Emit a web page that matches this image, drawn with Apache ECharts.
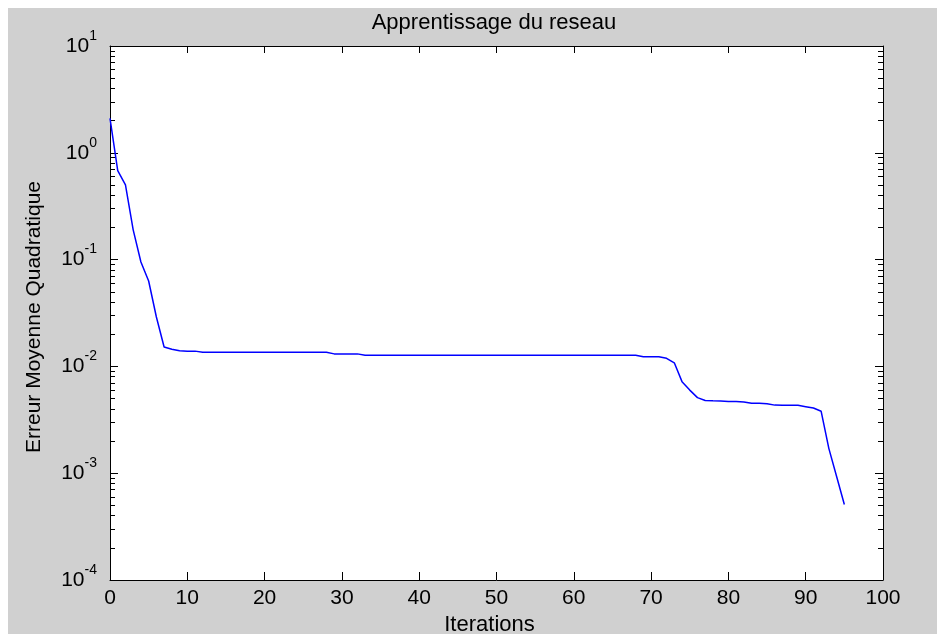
<!DOCTYPE html>
<html>
<head>
<meta charset="utf-8">
<script src="https://cdn.jsdelivr.net/npm/echarts@6/dist/echarts.min.js"></script>
<style>
html,body{margin:0;padding:0;background:#fff;}
#bg{position:absolute;left:8px;top:8px;width:929px;height:626px;background:#d0d0d0;}
#main{position:absolute;left:0;top:0;width:937px;height:634px;}
</style>
</head>
<body>
<div id="bg"></div>
<div id="main"></div>
<script>
// Data
const iterations = [
  0,1,2,3,4,5,6,7,8,9,
  10,11,12,13,14,15,16,17,18,19,
  20,21,22,23,24,25,26,27,28,29,
  30,31,32,33,34,35,36,37,38,39,
  40,41,42,43,44,45,46,47,48,49,
  50,51,52,53,54,55,56,57,58,59,
  60,61,62,63,64,65,66,67,68,69,
  70,71,72,73,74,75,76,77,78,79,
  80,81,82,83,84,85,86,87,88,89,
  90,91,92,93,94,95
];
const mse = [
  2.1,0.68,0.5,0.19,0.095,0.063,0.029,0.0152,0.0145,0.0140,
  0.0139,0.0139,0.01355,0.01355,0.01355,0.01355,0.01355,0.01355,0.01355,0.01355,
  0.01355,0.01355,0.01355,0.01355,0.01355,0.01355,0.01355,0.01355,0.01355,0.0131,
  0.0131,0.0131,0.0131,0.0127,0.0127,0.0127,0.0127,0.0127,0.0127,0.0127,
  0.0127,0.0127,0.0127,0.0127,0.0127,0.0127,0.0127,0.0127,0.0127,0.0127,
  0.0127,0.0127,0.0127,0.0127,0.0127,0.0127,0.0127,0.0127,0.0127,0.0127,
  0.0127,0.0127,0.0127,0.0127,0.0127,0.0127,0.0127,0.0127,0.0127,0.0123,
  0.0123,0.0123,0.0119,0.0108,0.0072,0.0060,0.0051,0.0048,0.00477,0.00475,
  0.0047,0.0047,0.00465,0.00452,0.00452,0.00448,0.00434,0.00433,0.00433,0.00432,
  0.0042,0.00408,0.0038,0.0017,0.00093,0.00051
];
const xTicks = [0,10,20,30,40,50,60,70,80,90,100];
const yMajor = [0.0001,0.001,0.01,0.1,1,10];
const yMinorMultipliers = [2,3,4,5,6,7,8,9];

const yMinor = [];
yMajor.slice(0,-1).forEach(d => yMinorMultipliers.forEach(m => yMinor.push(+(d*m).toPrecision(3))));

const FONT = "'Liberation Sans', Arial, sans-serif";
const seriesData = iterations.map((x,i)=>[x, mse[i]]);

const lineStyle = {color:'#000', width:1};
function logAxis(pos, showLabel, ticks, len) {
  return {
    type:'log', logBase:10, min:0.0001, max:10, position:pos,
    axisLine:{show:showLabel, lineStyle:lineStyle},
    splitLine:{show:false},
    axisTick:{show:true, inside:true, length:len, customValues:ticks, lineStyle:lineStyle},
    minorTick:{show:false},
    axisLabel:{
      show:showLabel && pos==='left', customValues:ticks, margin:13,
      fontFamily:FONT, fontSize:21, color:'#000',
      formatter: v => '{b|10}{sup|' + Math.round(Math.log10(v)) + '}',
      rich:{
        b:{fontFamily:FONT, fontSize:21, color:'#000'},
        sup:{fontFamily:FONT, fontSize:14, color:'#000', padding:[0,0,20,0]}
      }
    },
    name: (showLabel && pos==='left') ? 'Erreur Moyenne Quadratique' : '',
    nameLocation:'middle', nameGap:65, nameRotate:90,
    nameTextStyle:{fontFamily:FONT, fontSize:21, color:'#000', padding:[0,8,0,0]}
  };
}

const chart = echarts.init(document.getElementById('main'));
chart.setOption({
  backgroundColor:'transparent',
  animation:false,
  title:{
    text:'Apprentissage du reseau', left:494, top:12, textAlign:'center', padding:0,
    textStyle:{fontFamily:FONT, fontSize:22, fontWeight:'normal', color:'#000'}
  },
  grid:{left:110, top:46, right:54, bottom:54, show:true, backgroundColor:'#fff', borderWidth:0,
    containLabel:false, outerBoundsMode:'none'},
  xAxis:[
    {
      type:'value', min:0, max:100, interval:10, position:'bottom',
      axisLine:{show:true, onZero:false, lineStyle:lineStyle},
      splitLine:{show:false},
      axisTick:{show:true, inside:true, length:8, lineStyle:lineStyle},
      axisLabel:{margin:8, fontFamily:FONT, fontSize:21, color:'#000',
        customValues:xTicks},
      name:'Iterations', nameLocation:'middle', nameGap:29,
      nameTextStyle:{fontFamily:FONT, fontSize:22, color:'#000', padding:[0,14,0,0]}
    },
    {
      type:'value', min:0, max:100, interval:10, position:'top',
      axisLine:{show:true, onZero:false, lineStyle:lineStyle},
      splitLine:{show:false},
      axisTick:{show:true, inside:true, length:7, lineStyle:lineStyle},
      axisLabel:{show:false}
    }
  ],
  yAxis:[
    logAxis('left', true, yMajor, 8),
    logAxis('left', false, yMinor, 5),
    logAxis('right', true, yMajor, 8),
    logAxis('right', false, yMinor, 5)
  ],
  series:[{
    type:'line', xAxisIndex:0, yAxisIndex:0, data:seriesData,
    showSymbol:false, symbol:'none',
    lineStyle:{color:'#0000ff', width:1.5},
    itemStyle:{color:'#0000ff'}
  }]
});
</script>
</body>
</html>
